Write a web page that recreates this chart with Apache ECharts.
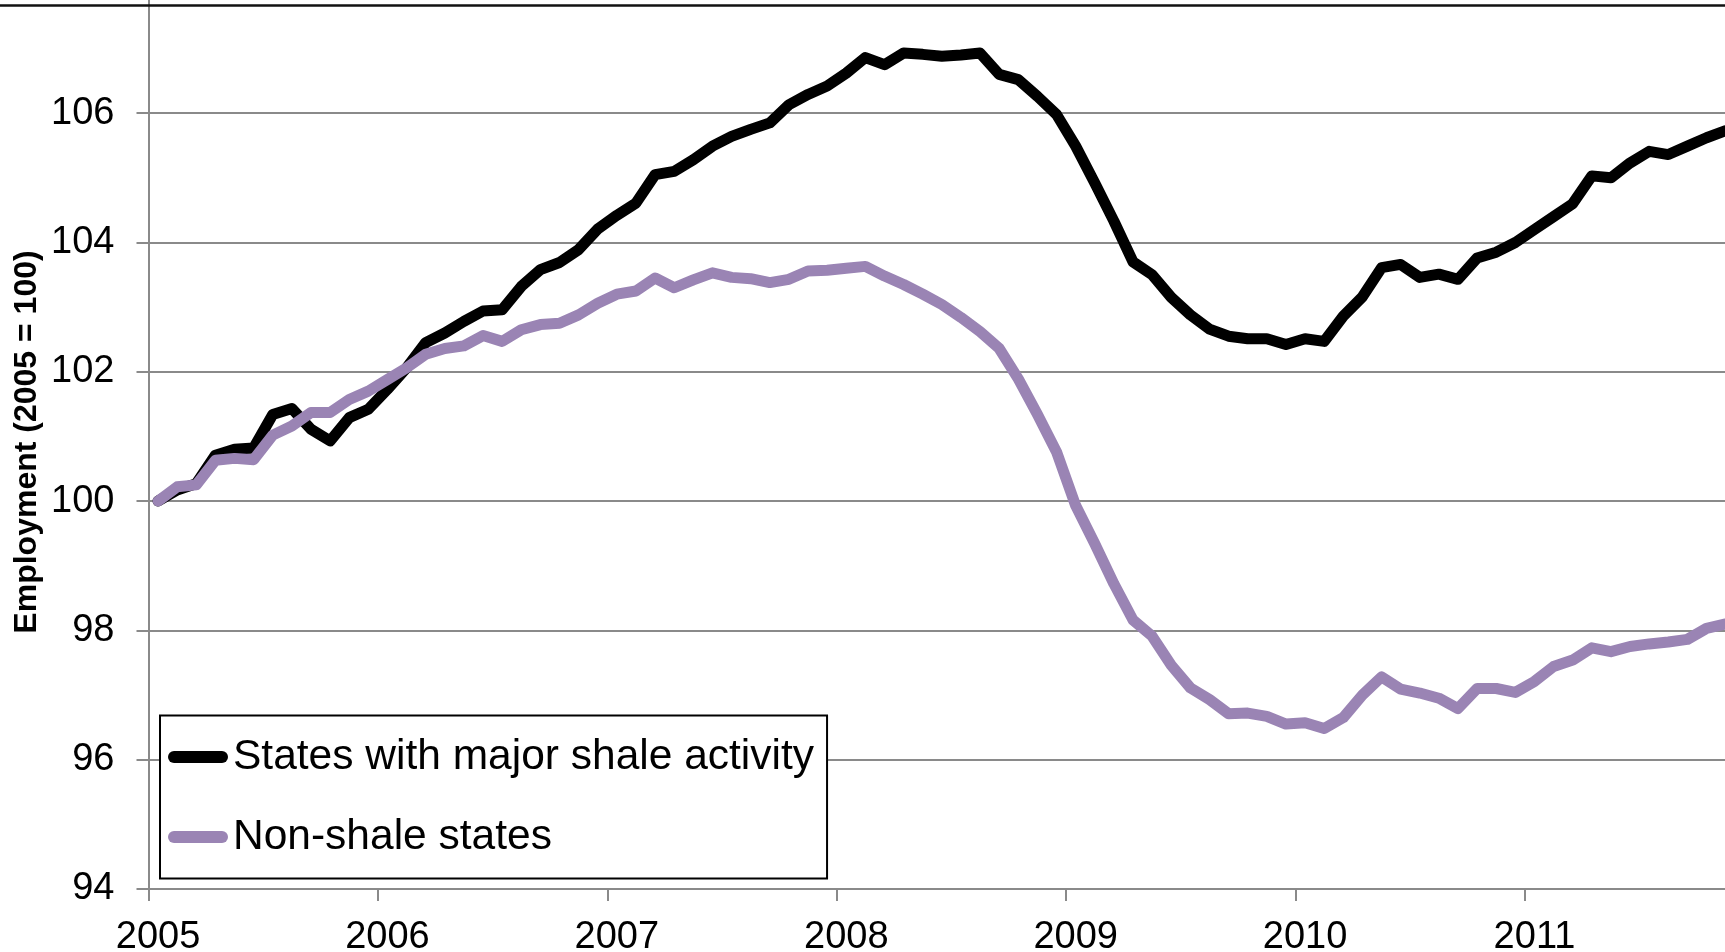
<!DOCTYPE html>
<html>
<head>
<meta charset="utf-8">
<title>Employment: shale vs non-shale states</title>
<script src="https://cdn.jsdelivr.net/npm/echarts@6/dist/echarts.min.js"></script>
<style>
  html, body { margin: 0; padding: 0; background: #ffffff; }
  #chart { width: 1725px; height: 952px; }
</style>
</head>
<body>
<div id="chart"></div>
<script>
// Monthly employment index, January 2005 = 100
const startYear = 2005;
const monthCount = 83; // Jan 2005 .. Nov 2011

const shaleStates = [
  100.00, 100.17, 100.27, 100.71, 100.80, 100.82, 101.34, 101.43, 101.11, 100.93, 101.29, 101.42,
  101.73, 102.06, 102.45, 102.60, 102.78, 102.94, 102.96, 103.32, 103.58, 103.69, 103.89, 104.21,
  104.42, 104.61, 105.05, 105.10, 105.28, 105.49, 105.64, 105.75, 105.85, 106.13, 106.29, 106.42,
  106.62, 106.86, 106.75, 106.93, 106.91, 106.88, 106.90, 106.93, 106.60, 106.52, 106.26, 105.98,
  105.49, 104.92, 104.33, 103.70, 103.50, 103.15, 102.88, 102.66, 102.55, 102.51, 102.51, 102.42,
  102.51, 102.47, 102.86, 103.16, 103.61, 103.66, 103.46, 103.51, 103.43, 103.76, 103.85, 104.00,
  104.20, 104.40, 104.60, 105.03, 105.00, 105.23, 105.41, 105.36, 105.49, 105.62, 105.73
];

const nonShaleStates = [
  100.00, 100.22, 100.25, 100.63, 100.66, 100.64, 101.02, 101.16, 101.37, 101.37, 101.57, 101.70,
  101.88, 102.06, 102.27, 102.36, 102.40, 102.56, 102.47, 102.65, 102.73, 102.75, 102.88, 103.06,
  103.20, 103.25, 103.45, 103.30, 103.42, 103.53, 103.46, 103.44, 103.38, 103.43, 103.56, 103.57,
  103.60, 103.63, 103.48, 103.35, 103.20, 103.04, 102.84, 102.62, 102.36, 101.89, 101.34, 100.76,
  99.93, 99.34, 98.72, 98.16, 97.91, 97.46, 97.11, 96.93, 96.71, 96.72, 96.67, 96.55,
  96.57, 96.48, 96.65, 97.00, 97.28, 97.09, 97.03, 96.95, 96.79, 97.10, 97.10, 97.04,
  97.21, 97.44, 97.54, 97.73, 97.67, 97.75, 97.79, 97.82, 97.86, 98.03, 98.10
];

const seriesNames = ['States with major shale activity', 'Non-shale states'];
const seriesColors = ['#000000', '#9a84b4'];
const yTicks = { min: 94, max: 108, step: 2 };
const axisTitle = 'Employment (2005 = 100)';

// Month categories "YYYY-MM"; the axis shows only the year of each January
const months = [];
for (let i = 0; i < monthCount; i++) {
  const y = startYear + Math.floor(i / 12);
  const m = (i % 12) + 1;
  months.push(y + '-' + (m < 10 ? '0' + m : m));
}

const FONT = '"Liberation Sans", Arial, Helvetica, sans-serif';
const GRID_GRAY = '#8a8a8a';
const legendIcon = 'path://M6,0 H54 A6,6 0 0 1 54,12 H6 A6,6 0 0 1 6,0 Z';

const chart = echarts.init(document.getElementById('chart'), null, { renderer: 'canvas' });

chart.setOption({
  animation: false,
  backgroundColor: '#ffffff',
  textStyle: { fontFamily: FONT },
  grid: {
    left: 148.5,
    right: -10.2,
    top: -16.1,
    bottom: 63.1,
    containLabel: false,
    outerBoundsMode: 'none'
  },
  xAxis: {
    type: 'category',
    data: months,
    boundaryGap: true,
    axisLine: { show: true, lineStyle: { color: GRID_GRAY, width: 2 } },
    axisTick: { show: true, interval: 11, length: 12, inside: false, lineStyle: { color: GRID_GRAY, width: 2 } },
    axisLabel: {
      interval: 11,
      margin: 30,
      color: '#000000',
      fontFamily: FONT,
      fontSize: 38,
      formatter: function (v) { return v.slice(0, 4); }
    },
    splitLine: { show: false }
  },
  yAxis: {
    type: 'value',
    min: yTicks.min,
    max: yTicks.max,
    interval: yTicks.step,
    axisLine: { show: true, lineStyle: { color: GRID_GRAY, width: 2 } },
    axisTick: { show: true, length: 12, inside: false, lineStyle: { color: GRID_GRAY, width: 2 } },
    axisLabel: {
      margin: 34,
      color: '#000000',
      fontFamily: FONT,
      fontSize: 38,
      showMaxLabel: false
    },
    splitLine: { show: true, lineStyle: { color: GRID_GRAY, width: 2 } }
  },
  legend: {
    orient: 'vertical',
    left: 160,
    top: 715.5,
    padding: [20, 13, 20, 8],
    itemGap: 37,
    itemWidth: 60,
    itemHeight: 12,
    backgroundColor: '#ffffff',
    borderColor: '#000000',
    borderWidth: 2,
    borderRadius: 0,
    textStyle: { color: '#000000', fontFamily: FONT, fontSize: 42.5, lineHeight: 42 },
    data: [
      { name: seriesNames[0], icon: legendIcon, itemStyle: { color: seriesColors[0] } },
      { name: seriesNames[1], icon: legendIcon, itemStyle: { color: seriesColors[1] } }
    ],
    z: 10
  },
  graphic: [
    {
      type: 'line',
      shape: { x1: 0, y1: 5.5, x2: 1725, y2: 5.5 },
      style: { stroke: '#111111', lineWidth: 2.5 },
      z: 20
    },
    {
      type: 'text',
      x: 27.5,
      y: 442,
      rotation: Math.PI / 2,
      style: {
        text: axisTitle,
        fill: '#000000',
        font: 'bold 32px ' + FONT,
        align: 'center',
        verticalAlign: 'middle'
      },
      z: 20
    }
  ],
  series: [
    {
      name: seriesNames[0],
      type: 'line',
      data: shaleStates,
      showSymbol: false,
      symbol: 'none',
      color: seriesColors[0],
      lineStyle: { color: seriesColors[0], width: 11, join: 'round', cap: 'round' },
      z: 3
    },
    {
      name: seriesNames[1],
      type: 'line',
      data: nonShaleStates,
      showSymbol: false,
      symbol: 'none',
      color: seriesColors[1],
      lineStyle: { color: seriesColors[1], width: 11, join: 'round', cap: 'round' },
      z: 4
    }
  ]
});
</script>
</body>
</html>
